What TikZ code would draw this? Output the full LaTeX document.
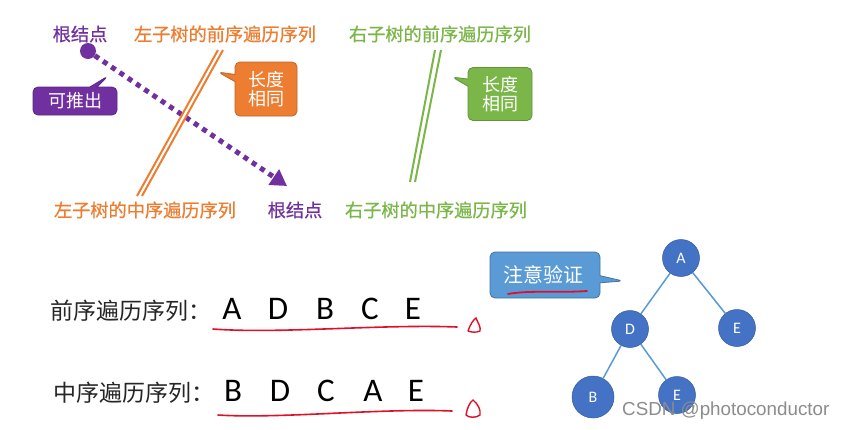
\documentclass[tikz,border=0pt]{standalone}
\usepackage{fontspec}
\setmainfont{Carlito}
\newfontfamily\cjk{Noto Sans CJK SC}
\newfontfamily\cjkb[FakeBold=0.6]{Noto Sans CJK SC}
\newfontfamily\wmfont{Liberation Sans}
\usetikzlibrary{shapes.callouts,arrows.meta}
\definecolor{ppl}{HTML}{7030A0}
\definecolor{org}{HTML}{ED7D31}
\definecolor{grn}{HTML}{7AB648}
\definecolor{nodeblue}{HTML}{4472C4}
\definecolor{edgeblue}{HTML}{5B9BD5}
\definecolor{callblue}{HTML}{5B9BD5}
\definecolor{redmark}{HTML}{E0102A}
\tikzset{
  toplabel/.style={font=\cjkb\fontsize{18.2}{20}\selectfont, inner sep=0pt},
  seqlabel/.style={font=\cjk\fontsize{23}{26}\selectfont, text=black!85, inner sep=0pt},
  letter/.style={font=\fontsize{33}{36}\selectfont, text=black, inner sep=0pt},
  callbox/.style={rectangle callout, rounded corners=5pt, inner sep=0pt, text=white,
     font=\cjk\fontsize{18}{22}\selectfont, align=center, line width=0.8pt},
  tnode/.style={circle, fill=nodeblue, draw=nodeblue!80!black, line width=0.5pt, text=white,
     font=\fontsize{16}{18}\selectfont, minimum size=37pt, inner sep=0pt},
  tedge/.style={edgeblue, line width=1.5pt},
  redline/.style={redmark, line width=1.6pt, line cap=round},
}
\begin{document}
\begin{tikzpicture}[x=1pt,y=-1pt]
\useasboundingbox (0,0) rectangle (846,429);
\fill[white] (0,0) rectangle (846,429);

% top labels
\node[toplabel, text=ppl] (root1) at (80,34) {根结点};
\node[toplabel, text=org] (lpre) at (225,34) {左子树的前序遍历序列};
\node[toplabel, text=grn] (rpre) at (440,34) {右子树的前序遍历序列};
\node[toplabel, text=org] (lin) at (145,210) {左子树的中序遍历序列};
\node[toplabel, text=ppl] (root2) at (295,210) {根结点};
\node[toplabel, text=grn] (rin) at (436,210) {右子树的中序遍历序列};

% root dot and dotted arrow
\node[circle, fill=ppl, minimum size=16pt, inner sep=0pt] (dot) at (88,51) {};
\coordinate (tip) at (287,186);
\draw[ppl, line width=5pt, dash pattern=on 5pt off 5pt, -{Triangle[length=16pt,width=18pt]}]
  (dot) -- (tip);

% orange double line
\coordinate (o1a) at (218,50); \coordinate (o1b) at (137,196);
\coordinate (o2a) at (223,50); \coordinate (o2b) at (142,196);
\draw[org, line width=2pt] (o1a) -- (o1b);
\draw[org, line width=2pt] (o2a) -- (o2b);

% green double line
\coordinate (g1a) at (435,50); \coordinate (g1b) at (410,182);
\coordinate (g2a) at (441,50); \coordinate (g2b) at (415,182);
\draw[grn, line width=2pt] (g1a) -- (g1b);
\draw[grn, line width=2pt] (g2a) -- (g2b);

% callouts
\node[callbox, fill=ppl, draw=ppl!80!black, minimum width=84pt, minimum height=28pt,
  callout absolute pointer={(108,76)}] (c1) at (75,101) {可推出};
\node[callbox, fill=org, draw=org!80!black, minimum width=62pt, minimum height=54pt,
  callout absolute pointer={(218,72)}] (c2) at (266,89) {长度\\[-3pt]相同};
\node[callbox, fill=grn, draw=grn!80!black, minimum width=64pt, minimum height=53pt,
  callout absolute pointer={(452,77)}] (c3) at (500,94) {长度\\[-3pt]相同};
\node[callbox, fill=callblue, draw=callblue!75!black, minimum width=110pt, minimum height=46pt,
  callout absolute pointer={(623,281)}, text width=110pt, align=left,
  font=\cjk\fontsize{20}{22}\selectfont] (c4) at (545,275) {\hspace*{13pt}注意验证\\[4pt]};
\draw[redline, line width=1.8pt] (508,294) .. controls (530,290) and (560,293) .. (587,291);

% sequences
\node[seqlabel, anchor=west] (pre) at (50,311) {前序遍历序列：};
\node[letter] (p1) at (232,309) {A};
\node[letter] (p2) at (278,309) {D};
\node[letter] (p3) at (325,309) {B};
\node[letter] (p4) at (370,309) {C};
\node[letter] (p5) at (413,309) {E};
\draw[redline] (213,329) .. controls (280,334) and (380,324) .. (457,327);
\draw[redline, line width=1.4pt] (468,331) .. controls (470,325) and (473,320) .. (476,318)
  .. controls (478,323) and (481,327) .. (480,331) .. controls (476,333) and (470,332) .. (468,331);

\node[seqlabel, anchor=west] (in) at (53,393) {中序遍历序列：};
\node[letter] (i1) at (233,391) {B};
\node[letter] (i2) at (280,391) {D};
\node[letter] (i3) at (326,391) {C};
\node[letter] (i4) at (373,391) {A};
\node[letter] (i5) at (416,391) {E};
\draw[redline] (218,415) .. controls (280,419) and (380,408) .. (452,411);
\draw[redline, line width=1.4pt] (466,415) .. controls (467,408) and (470,402) .. (473,400)
  .. controls (478,404) and (481,410) .. (480,415) .. controls (476,418) and (469,418) .. (466,415);

% tree
\node[tnode] (A) at (681,258) {A};
\node[tnode] (D) at (630,329) {D};
\node[tnode] (E1) at (737,328) {E};
\node[tnode, minimum size=42pt] (B) at (593,397) {B};
\node[tnode] (E2) at (677,395) {E};
\draw[tedge] (A) -- (D);
\draw[tedge] (A) -- (E1);
\draw[tedge] (D) -- (B);
\draw[tedge] (D) -- (E2);

% watermark
\node[font=\wmfont\fontsize{18.8}{20}\selectfont, text=black!45, inner sep=0pt, anchor=west] (wm) at (622,411) {CSDN @photoconductor};
\end{tikzpicture}
\end{document}
